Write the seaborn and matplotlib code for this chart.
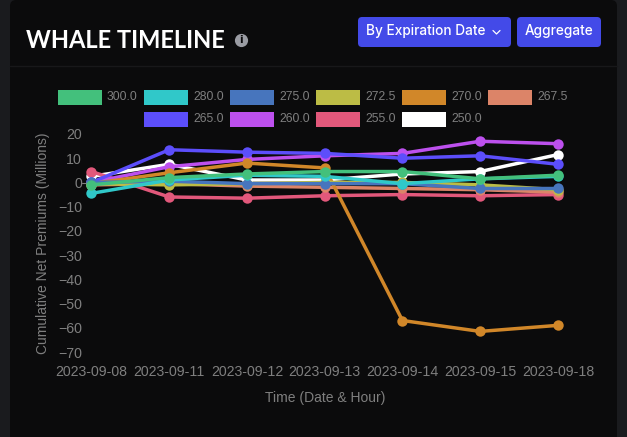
import matplotlib
matplotlib.use("Agg")
import matplotlib.pyplot as plt
from matplotlib.patches import FancyBboxPatch, Rectangle
import pandas as pd
import seaborn as sns

# Values (millions)
dates = ["2023-09-08", "2023-09-11", "2023-09-12", "2023-09-13",
         "2023-09-14", "2023-09-15", "2023-09-18"]
strikes = ["300.0", "280.0", "275.0", "272.5", "270.0", "267.5",
           "265.0", "260.0", "255.0", "250.0"]
colors = ["#43c07c", "#30c8c9", "#4775bd", "#bcbc45", "#d18729", "#dc8468",
          "#5c4efb", "#bd50ee", "#e2587b", "#ffffff"]

s300 = [-1, 2, 3.5, 4.5, 4.5, 1.5, 3]
s280 = [-4.5, 1, 3, 2.5, -0.5, 1.5, 2.5]
s275 = [0, 0.5, -0.5, -0.5, -0.5, -2.5, -2.5]
s272 = [-0.5, -1, -0.5, 0, 0, -1, -3]
s270 = [-0.5, 4, 8, 6, -57, -61.5, -59]
s267 = [-1, -0.5, -1.5, -2, -2.5, -3, -4]
s265 = [0, 13.5, 12.5, 12, 10, 11, 7.5]
s260 = [0, 6.5, 9.5, 11, 12, 17, 16]
s255 = [4.5, -6, -6.5, -5.5, -5, -5.5, -5]
s250 = [2.5, 7.5, 1, 1, 3.5, 4.5, 11.5]
series = [s300, s280, s275, s272, s270, s267, s265, s260, s255, s250]

W, H = 627, 437
PANEL = "#0b0b0c"
GREY = "#7f7f7f"
BUTTON = "#434ae8"

sns.set_theme(style="dark")
plt.rcParams["font.family"] = ["Liberation Sans", "DejaVu Sans"]

rows = []
for strike, vals in zip(strikes, series):
    for d, v in zip(dates, vals):
        rows.append({"date": d, "strike": strike, "premium": v})
df = pd.DataFrame(rows)

fig = plt.figure(figsize=(W / 100, H / 100), dpi=100, facecolor="#1a1b1e")

# page furniture drawn in pixel coordinates
bg = fig.add_axes([0, 0, 1, 1], zorder=0)
bg.set_xlim(0, W)
bg.set_ylim(H, 0)
bg.axis("off")
bg.add_patch(FancyBboxPatch((10, 0), 607, H + 30, boxstyle="round,pad=0,rounding_size=6",
                            fc=PANEL, ec="none"))
bg.plot([10, 617], [65.5, 65.5], color="#18181a", lw=1)
bg.text(26, 41, "WHALE TIMELINE", color="white", fontsize=17, fontweight="bold",
        family="Lato", va="center", ha="left")
bg.plot([241], [40], "o", ms=9.5, color="#9a9ca3", mew=0)
bg.text(241, 40.3, "i", color=PANEL, fontsize=7.5, fontweight="bold", ha="center", va="center",
        family="DejaVu Sans")
for x0, w in [(358, 153), (517, 84)]:
    bg.add_patch(FancyBboxPatch((x0, 17), w, 30, boxstyle="round,pad=0,rounding_size=4",
                                fc=BUTTON, ec="none"))
bg.text(366, 31.5, "By Expiration Date", color="white", fontsize=9.8, family="Inter",
        fontweight="medium", va="center")
bg.plot([493, 496.5, 500], [30.5, 34, 30.5], color="white", lw=0.9)
bg.text(559.5, 31.5, "Aggregate", color="white", fontsize=9.8, family="Inter",
        fontweight="medium", ha="center", va="center")

# legend, two centred rows like the chart.js one
legend_x = [58, 144, 230, 316, 402, 488]
for i, (strike, c) in enumerate(zip(strikes, colors)):
    if i < 6:
        x, y = legend_x[i], 90
    else:
        x, y = legend_x[i - 5], 112
    bg.add_patch(Rectangle((x, y), 44, 15, fc=c, ec="none"))
    bg.text(x + 49, y + 7.5, strike, color=GREY, fontsize=8.7, va="center", ha="left")

# chart
ax = fig.add_axes([86 / W, 1 - 352 / H, (589 - 86) / W, 218 / H], zorder=1)
ax.patch.set_alpha(0)
order = strikes[::-1]
sns.lineplot(data=df, x="date", y="premium", hue="strike", hue_order=order,
             palette=dict(zip(strikes, colors)), marker="o", markersize=7.5,
             markeredgewidth=0, linewidth=2.5, sort=False, errorbar=None,
             legend=False, clip_on=False, ax=ax)
ax.set_xlim(-5.5 / 77.75, 6.4)
ax.set_ylim(-70, 20)
ax.set_yticks(range(-70, 21, 10))
sns.despine(ax=ax, left=True, bottom=True)
ax.grid(False)
ax.tick_params(axis="both", colors=GREY, labelsize=10.2, length=0)
ax.tick_params(axis="x", pad=9)
ax.tick_params(axis="y", pad=3)
ax.set_xlabel("Time (Date & Hour)", color=GREY, fontsize=10)
ax.xaxis.set_label_coords((325 - 86) / (589 - 86), -39 / 218)
ax.set_ylabel("Cumulative Net Premiums (Millions)", color=GREY, fontsize=10)
ax.yaxis.set_label_coords((50 - 86) / (589 - 86), 0.5)

# short stub next to the zero label
bg.plot([82, 91], [182.5, 182.5], color=GREY, lw=0.8)

fig.savefig("out.png", dpi=100, facecolor=fig.get_facecolor())
